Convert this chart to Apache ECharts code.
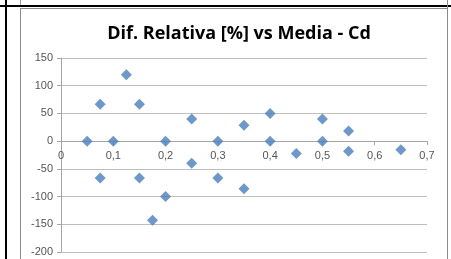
<!DOCTYPE html>
<html>
<head>
<meta charset="utf-8">
<script src="https://cdn.jsdelivr.net/npm/echarts@6/dist/echarts.min.js"></script>
<style>
  html, body { margin: 0; padding: 0; background: #ffffff; }
  #wrap { position: relative; width: 451px; height: 259px; overflow: hidden; }
  #chart { position: absolute; left: 0; top: 0; width: 451px; height: 259px; }
  .ln { position: absolute; }
</style>
</head>
<body>
<div id="wrap">
  <div id="chart"></div>
  <!-- spreadsheet cell borders around the chart -->
  <div class="ln" style="left:0;top:5px;width:451px;height:2px;background:#000;"></div>
  <div class="ln" style="left:5px;top:0;width:2px;height:259px;background:#000;"></div>
  <div class="ln" style="left:20px;top:0;width:1px;height:5px;background:#9a9a9a;"></div>
  <div class="ln" style="left:20px;top:8px;width:1px;height:251px;background:#8c8c8c;"></div>
  <div class="ln" style="left:20px;top:8px;width:428px;height:1px;background:#8c8c8c;"></div>
  <div class="ln" style="left:447px;top:0;width:1px;height:259px;background:#8c8c8c;"></div>
</div>
<script>
// media (x) y diferencia relativa en % (y)
const media = [0.05, 0.075, 0.075, 0.1, 0.125, 0.15, 0.15, 0.175, 0.2, 0.2, 0.25, 0.25,
               0.3, 0.3, 0.35, 0.35, 0.4, 0.4, 0.45, 0.5, 0.5, 0.55, 0.55, 0.65];
const difRelativa = [0, 66.7, -66.7, 0, 120, 66.7, -66.7, -142.9, 0, -100, 40, -40,
                     0, -66.7, 28.6, -85.7, 50, 0, -22.2, 40, 0, 18.2, -18.2, -15.4];

const yMin = -200, yMax = 150;
const data = media.map((m, i) => [m, difRelativa[i]]);

const gridTop = 58, gridBottom = 7, chartH = 259;
const plotH = chartH - gridTop - gridBottom;
// move the x axis up so it sits on y = 0, like the Excel chart
const zeroOffset = -plotH * (0 - yMin) / (yMax - yMin);

var myChart = echarts.init(document.getElementById('chart'));

var option = {
  animation: false,
  title: {
    text: 'Dif. Relativa [%] vs Media - Cd',
    left: 234,
    textAlign: 'center',
    top: 20,
    textStyle: {
      fontFamily: 'Open Sans',
      fontSize: 18,
      fontWeight: 'bold',
      color: '#000000'
    }
  },
  grid: {
    left: 61,
    right: 24,
    top: gridTop,
    bottom: gridBottom
  },
  xAxis: {
    type: 'value',
    min: 0,
    max: 0.7,
    interval: 0.1,
    position: 'bottom',
    offset: zeroOffset,
    axisLine: { onZero: false, lineStyle: { color: '#a6a6a6' } },
    axisTick: { show: true, inside: false, length: 4, lineStyle: { color: '#a6a6a6' } },
    splitLine: { show: false },
    axisLabel: {
      margin: 9,
      fontFamily: 'Liberation Sans',
      fontSize: 11,
      color: '#555555',
      formatter: v => v === 0 ? '0' : v.toFixed(1).replace('.', ',')
    }
  },
  yAxis: {
    type: 'value',
    min: yMin,
    max: yMax,
    interval: 50,
    axisLine: { show: true, onZero: false, lineStyle: { color: '#a6a6a6' } },
    axisTick: { show: true, length: 4, lineStyle: { color: '#a6a6a6' } },
    splitLine: { show: true, lineStyle: { color: '#bfbfbf' } },
    axisLabel: {
      margin: 8,
      fontFamily: 'Liberation Sans',
      fontSize: 11,
      color: '#555555'
    }
  },
  series: [
    {
      type: 'scatter',
      symbol: 'diamond',
      symbolSize: [11, 11],
      itemStyle: { color: '#4a7ebb' },
      data: data
    }
  ]
};

myChart.setOption(option);
</script>
</body>
</html>
